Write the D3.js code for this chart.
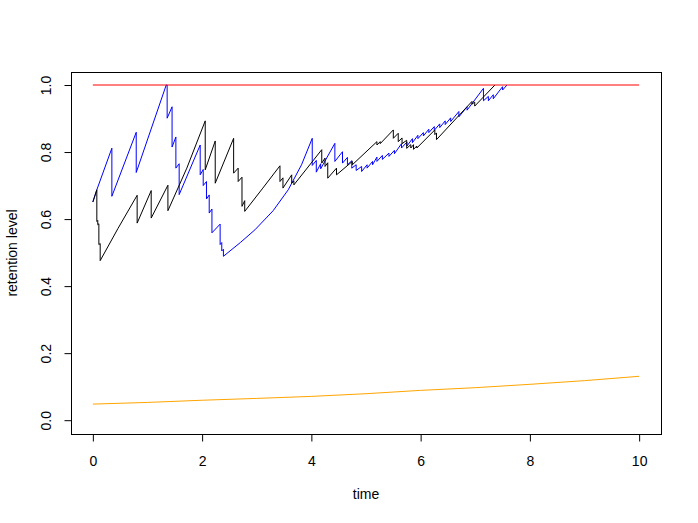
<!DOCTYPE html>
<html>
<head>
<meta charset="utf-8">
<script src="https://cdn.jsdelivr.net/npm/d3@7"></script>
<style>
  body { margin: 0; background: #fff; }
  svg { display: block; font-family: "Liberation Sans", Arial, Helvetica, sans-serif; }
</style>
</head>
<body>
<div id="main"></div>
<script>
// black path (time, retention level)
const blackT = [0, 0.073, 0.073, 0.09, 0.09, 0.11, 0.11, 0.134, 0.134, 0.46, 0.811, 0.811, 1.068, 1.068, 1.374, 1.374, 1.72, 2.057, 2.057, 2.24, 2.24, 2.577, 2.577, 2.66, 2.66, 2.73, 2.73, 2.78, 2.78, 3.1, 3.425, 3.425, 3.48, 3.48, 3.64, 3.64, 3.68, 3.68, 4.19, 4.19, 4.25, 4.25, 4.30, 4.30, 4.46, 4.46, 4.75, 4.75, 5.2, 5.2, 5.26, 5.26, 5.5, 5.5, 5.59, 5.59, 5.66, 5.66, 5.745, 5.745, 5.82, 5.82, 5.87, 5.87, 5.93, 5.93, 6.26, 6.26, 6.29, 6.29, 6.94, 6.94, 6.99, 6.99, 7.36];
const blackY = [0.651, 0.6875, 0.593, 0.596, 0.583, 0.586, 0.524, 0.527, 0.476, 0.572, 0.671, 0.588, 0.685, 0.603, 0.701, 0.625, 0.752, 0.893, 0.747, 0.833, 0.707, 0.841, 0.737, 0.752, 0.712, 0.725, 0.638, 0.655, 0.623, 0.69, 0.759, 0.712, 0.723, 0.6925, 0.732, 0.707, 0.714, 0.702, 0.807, 0.767, 0.782, 0.757, 0.768, 0.722, 0.752, 0.732, 0.772, 0.762, 0.831, 0.821, 0.831, 0.825, 0.866, 0.841, 0.856, 0.831, 0.842, 0.825, 0.835, 0.811, 0.822, 0.812, 0.822, 0.808, 0.818, 0.812, 0.866, 0.852, 0.857, 0.837, 0.951, 0.943, 0.949, 0.937, 1.0];

// blue path
const blueT = [0, 0.073, 0.348, 0.348, 0.794, 0.794, 1.343, 1.36, 1.36, 1.45, 1.45, 1.52, 1.52, 1.58, 1.58, 1.965, 1.965, 2.02, 2.02, 2.08, 2.08, 2.13, 2.13, 2.18, 2.18, 2.33, 2.33, 2.36, 2.36, 2.39, 2.39, 2.7, 2.967, 3.3, 3.577, 3.82, 4.016, 4.016, 4.09, 4.09, 4.17, 4.17, 4.43, 4.43, 4.57, 4.57, 4.66, 4.66, 4.74, 4.74, 4.82, 4.82, 4.92, 4.92, 5.02, 5.02, 5.12, 5.12, 5.2, 5.2, 5.3, 5.3, 5.42, 5.42, 5.52, 5.52, 5.65, 5.65, 5.75, 5.75, 5.85, 5.85, 5.95, 5.95, 6.05, 6.05, 6.15, 6.15, 6.25, 6.25, 6.35, 6.35, 6.45, 6.45, 6.55, 6.55, 6.7, 6.7, 6.85, 6.85, 7.15, 7.15, 7.24, 7.24, 7.33, 7.33, 7.5, 7.5, 7.58];
const blueY = [0.651, 0.6875, 0.8115, 0.668, 0.859, 0.739, 1.0, 1.0, 0.901, 0.935, 0.815, 0.845, 0.752, 0.765, 0.673, 0.821, 0.732, 0.748, 0.70, 0.712, 0.66, 0.672, 0.618, 0.63, 0.559, 0.585, 0.524, 0.53, 0.505, 0.51, 0.489, 0.53, 0.568, 0.625, 0.6875, 0.762, 0.841, 0.76, 0.775, 0.74, 0.765, 0.75, 0.826, 0.772, 0.801, 0.767, 0.784, 0.762, 0.774, 0.752, 0.762, 0.745, 0.757, 0.742, 0.762, 0.752, 0.772, 0.762, 0.785, 0.772, 0.79, 0.778, 0.797, 0.787, 0.805, 0.795, 0.825, 0.812, 0.83, 0.818, 0.84, 0.828, 0.85, 0.84, 0.858, 0.848, 0.868, 0.858, 0.876, 0.865, 0.884, 0.873, 0.893, 0.882, 0.902, 0.891, 0.921, 0.905, 0.935, 0.925, 0.99, 0.953, 0.966, 0.953, 0.971, 0.959, 0.995, 0.985, 1.0];

// upper bound and lower curve
const redT = [0, 10];
const redY = [1, 1];
const orangeT = [0, 1, 2, 3, 4, 5, 6, 7, 8, 9, 10];
const orangeY = [0.048, 0.053, 0.0595, 0.065, 0.071, 0.079, 0.089, 0.097, 0.107, 0.118, 0.131];

const xTicks = [0, 2, 4, 6, 8, 10];
const yTicks = [0, 0.2, 0.4, 0.6, 0.8, 1.0];

const width = 698;
const height = 523;
const boxLeft = 71, boxRight = 661, boxTop = 72, boxBottom = 434;

const xScale = d3.scaleLinear()
  .domain([-0.4, 10.4])
  .range([boxLeft, boxRight]);

// lines sit a little above the box grid, as in the R device
const yScale = d3.scaleLinear()
  .domain([-0.04, 1.04])
  .range([boxBottom - 0.4, boxTop - 0.4]);

const svg = d3.select("#main")
  .append("svg")
  .attr("width", width)
  .attr("height", height);

svg.append("rect")
  .attr("width", width)
  .attr("height", height)
  .attr("fill", "#fff");

const zip = (ts, ys) => ts.map((t, i) => [t, ys[i]]);

const drawPath = (data, color, curve) => {
  const line = d3.line()
    .x(d => xScale(d[0]))
    .y(d => yScale(d[1]))
    .curve(curve || d3.curveLinear);

  svg.append("path")
    .datum(data)
    .attr("fill", "none")
    .attr("stroke", color)
    .attr("stroke-width", 1)
    .attr("d", line);
};

drawPath(zip(blueT, blueY), "#0000ff");
drawPath(zip(blackT, blackY), "#000000");
drawPath(zip(redT, redY), "#ff0000");
drawPath(zip(orangeT, orangeY), "#ffa500", d3.curveMonotoneX);

// box
svg.append("rect")
  .attr("x", boxLeft + 0.5)
  .attr("y", boxTop + 0.5)
  .attr("width", boxRight - boxLeft)
  .attr("height", boxBottom - boxTop)
  .attr("fill", "none")
  .attr("stroke", "#000")
  .attr("stroke-width", 1);

const xAxis = d3.axisBottom(xScale)
  .tickValues(xTicks)
  .tickFormat(d3.format("d"))
  .tickSize(7)
  .tickSizeOuter(0)
  .tickPadding(15);

const gx = svg.append("g")
  .attr("transform", "translate(0," + (boxBottom + 0.5) + ")")
  .call(xAxis);
gx.select(".domain").remove();
gx.selectAll("text")
  .attr("font-size", 14)
  .attr("font-family", "Liberation Sans, Arial, sans-serif")
  .attr("fill", "#000");

const yAxis = d3.axisLeft(yScale)
  .tickValues(yTicks)
  .tickFormat(d3.format(".1f"))
  .tickSize(7)
  .tickSizeOuter(0);

const gy = svg.append("g")
  .attr("transform", "translate(" + (boxLeft + 0.5) + ",0)")
  .call(yAxis);
gy.select(".domain").remove();
gy.selectAll("text")
  .attr("x", 0)
  .attr("dy", null)
  .attr("text-anchor", "middle")
  .attr("transform", "translate(-21,0) rotate(-90)")
  .attr("font-size", 14)
  .attr("font-family", "Liberation Sans, Arial, sans-serif")
  .attr("fill", "#000");

svg.append("text")
  .attr("x", (boxLeft + boxRight) / 2)
  .attr("y", 499)
  .attr("text-anchor", "middle")
  .attr("font-size", 14)
  .text("time");

svg.append("text")
  .attr("transform", "translate(17," + (boxTop + boxBottom) / 2 + ") rotate(-90)")
  .attr("text-anchor", "middle")
  .attr("font-size", 14)
  .text("retention level");
</script>
</body>
</html>
